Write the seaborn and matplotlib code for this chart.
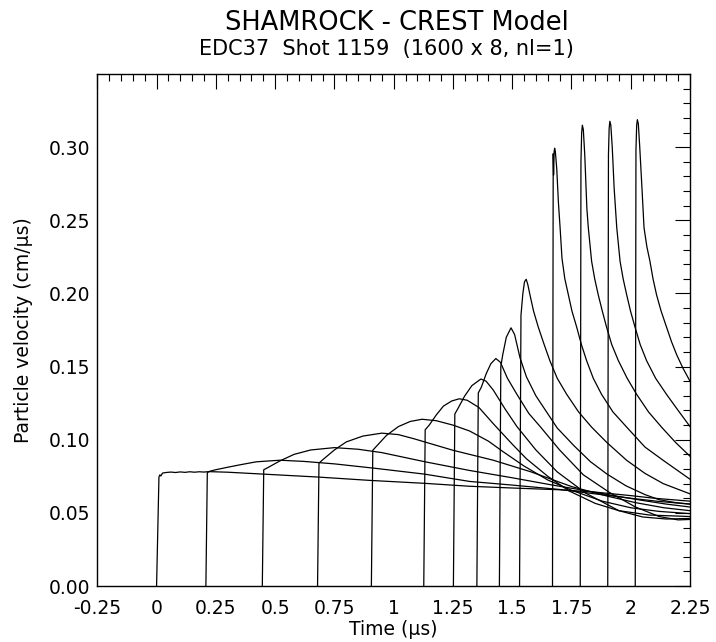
import matplotlib
matplotlib.use("Agg")
import matplotlib.pyplot as plt
import seaborn as sns
import pandas as pd
from matplotlib.ticker import MultipleLocator, FormatStrFormatter

# gauge records: time (us) and particle velocity (cm/us)
g01_t = [0.000, 0.010, 0.014, 0.018, 0.025, 0.04, 0.06, 0.08, 0.10, 0.12, 0.14, 0.16, 0.18, 0.20,
         0.22, 0.30, 0.45, 0.68, 0.90, 1.13, 1.32, 1.50, 1.70, 1.85, 2.00, 2.10, 2.25]
g01_v = [0.0, 0.0745, 0.0760, 0.0752, 0.0772, 0.0776, 0.0779, 0.0776, 0.0780, 0.0777, 0.0781, 0.0778,
         0.0781, 0.0779, 0.0782, 0.0778, 0.0765, 0.0745, 0.0722, 0.0702, 0.0682, 0.0670, 0.0658,
         0.0642, 0.0618, 0.0600, 0.0580]

g02_t = [0.208, 0.214, 0.225, 0.25, 0.30, 0.35, 0.42, 0.52, 0.62, 0.75, 0.92, 1.13, 1.32, 1.50,
         1.70, 1.85, 2.00, 2.12, 2.25]
g02_v = [0.0, 0.0775, 0.0785, 0.0795, 0.0812, 0.0828, 0.0849, 0.0860, 0.0852, 0.0835, 0.0805,
         0.0765, 0.0715, 0.0690, 0.0660, 0.0630, 0.0600, 0.0578, 0.0560]

g03_t = [0.446, 0.452, 0.47, 0.52, 0.58, 0.65, 0.75, 0.85, 0.95, 1.13, 1.32, 1.50, 1.67, 1.80,
         1.92, 2.05, 2.15, 2.25]
g03_v = [0.0, 0.0795, 0.0810, 0.0855, 0.0900, 0.0930, 0.0946, 0.0935, 0.0912, 0.0850, 0.0790,
         0.0740, 0.0690, 0.0655, 0.0620, 0.0585, 0.0560, 0.0540]

g04_t = [0.679, 0.685, 0.70, 0.75, 0.80, 0.87, 0.95, 1.02, 1.085, 1.25, 1.42, 1.58, 1.75, 1.90,
         2.02, 2.14, 2.25]
g04_v = [0.0, 0.0840, 0.0862, 0.0930, 0.0985, 0.1025, 0.1045, 0.1035, 0.1007, 0.0928, 0.0860,
         0.0780, 0.0680, 0.0615, 0.0570, 0.0535, 0.0515]

g05_t = [0.906, 0.912, 0.93, 0.97, 1.02, 1.07, 1.12, 1.18, 1.25, 1.32, 1.40, 1.46, 1.55, 1.65,
         1.75, 1.88, 2.00, 2.12, 2.25]
g05_v = [0.0, 0.0928, 0.0960, 0.1030, 0.1090, 0.1125, 0.1140, 0.1130, 0.1100, 0.1060, 0.0990,
         0.0920, 0.0820, 0.0725, 0.0655, 0.0580, 0.0535, 0.0510, 0.0495]

g06_t = [1.127, 1.133, 1.15, 1.18, 1.21, 1.245, 1.277, 1.31, 1.36, 1.42, 1.50, 1.56, 1.65, 1.74,
         1.85, 1.95, 2.08, 2.25]
g06_v = [0.0, 0.1068, 0.1100, 0.1170, 0.1230, 0.1265, 0.1280, 0.1270, 0.1220, 0.1110, 0.0970,
         0.0870, 0.0750, 0.0650, 0.0565, 0.0515, 0.0485, 0.0475]

g07_t = [1.252, 1.258, 1.27, 1.30, 1.33, 1.368, 1.39, 1.42, 1.47, 1.52, 1.60, 1.69, 1.81, 1.95,
         2.05, 2.15, 2.25]
g07_v = [0.0, 0.1176, 0.1210, 0.1300, 0.1370, 0.1415, 0.1400, 0.1340, 0.1210, 0.1090, 0.0930,
         0.0780, 0.0635, 0.0515, 0.0472, 0.0458, 0.0462]

g08_t = [1.351, 1.357, 1.37, 1.39, 1.41, 1.431, 1.45, 1.48, 1.52, 1.57, 1.62, 1.70, 1.80, 1.91,
         2.02, 2.12, 2.20, 2.25]
g08_v = [0.0, 0.1320, 0.1360, 0.1450, 0.1520, 0.1555, 0.1530, 0.1420, 0.1310, 0.1180, 0.1086,
         0.0930, 0.0760, 0.0640, 0.0540, 0.0475, 0.0452, 0.0455]

g09_t = [1.446, 1.452, 1.46, 1.475, 1.495, 1.51, 1.533, 1.56, 1.60, 1.69, 1.76, 1.83, 1.90, 1.98,
         2.06, 2.12, 2.19, 2.25]
g09_v = [0.0, 0.1500, 0.1580, 0.1700, 0.1765, 0.1720, 0.1560, 0.1430, 0.1300, 0.1080, 0.0960,
         0.0850, 0.0765, 0.0685, 0.0625, 0.0590, 0.0570, 0.0560]

g10_t = [1.531, 1.537, 1.545, 1.552, 1.559, 1.566, 1.575, 1.59, 1.61, 1.635, 1.659, 1.69, 1.73,
         1.78, 1.835, 1.90, 1.983, 2.06, 2.137, 2.25]
g10_v = [0.0, 0.1850, 0.2000, 0.2080, 0.2097, 0.2060, 0.1990, 0.1880, 0.1770, 0.1650, 0.1540,
         0.1420, 0.1310, 0.1190, 0.1086, 0.0980, 0.0859, 0.0770, 0.0700, 0.0630]

g11_t = [1.670, 1.673, 1.6745, 1.677, 1.679, 1.682, 1.688, 1.695, 1.702, 1.710, 1.722, 1.737,
         1.752, 1.772, 1.792, 1.814, 1.842, 1.877, 1.925, 1.983, 2.06, 2.137, 2.25]
g11_v = [0.0, 0.2955, 0.2810, 0.2970, 0.2993, 0.2970, 0.2850, 0.2620, 0.2450, 0.2240, 0.2100,
         0.1990, 0.1880, 0.1770, 0.1650, 0.1540, 0.1420, 0.1310, 0.1190, 0.1086, 0.0950, 0.0859,
         0.0730]

g12_t = [1.787, 1.790, 1.793, 1.796, 1.800, 1.806, 1.815, 1.821, 1.835, 1.848, 1.863, 1.880,
         1.898, 1.920, 1.948, 1.985, 2.025, 2.075, 2.13, 2.19, 2.25]
g12_v = [0.0, 0.2900, 0.3100, 0.3150, 0.3120, 0.2950, 0.2580, 0.2450, 0.2220, 0.2100, 0.1990,
         0.1880, 0.1770, 0.1650, 0.1540, 0.1420, 0.1310, 0.1190, 0.1086, 0.0980, 0.0887]

g13_t = [1.903, 1.906, 1.909, 1.912, 1.916, 1.922, 1.930, 1.941, 1.955, 1.968, 1.983, 1.999,
         2.018, 2.040, 2.067, 2.105, 2.151, 2.20, 2.25]
g13_v = [0.0, 0.2950, 0.3130, 0.3177, 0.3150, 0.3000, 0.2720, 0.2450, 0.2220, 0.2100, 0.1990,
         0.1880, 0.1770, 0.1650, 0.1540, 0.1420, 0.1310, 0.1200, 0.1090]

g14_t = [2.019, 2.022, 2.025, 2.028, 2.032, 2.038, 2.048, 2.056, 2.068, 2.081, 2.094, 2.109,
         2.128, 2.151, 2.172, 2.194, 2.22, 2.25]
g14_v = [0.0, 0.2980, 0.3150, 0.3188, 0.3160, 0.3000, 0.2700, 0.2450, 0.2320, 0.2220, 0.2100,
         0.1990, 0.1880, 0.1770, 0.1670, 0.1580, 0.1490, 0.1400]

gauges = [(g01_t, g01_v), (g02_t, g02_v), (g03_t, g03_v), (g04_t, g04_v), (g05_t, g05_v),
          (g06_t, g06_v), (g07_t, g07_v), (g08_t, g08_v), (g09_t, g09_v), (g10_t, g10_v),
          (g11_t, g11_v), (g12_t, g12_v), (g13_t, g13_v), (g14_t, g14_v)]

x_ticks = [-0.25, 0, 0.25, 0.5, 0.75, 1, 1.25, 1.5, 1.75, 2, 2.25]
x_ticklabels = ["-0.25", "0", "0.25", "0.5", "0.75", "1", "1.25", "1.5", "1.75", "2", "2.25"]
y_ticks = [0.0, 0.05, 0.10, 0.15, 0.20, 0.25, 0.30]

rows = []
for i, (t, v) in enumerate(gauges):
    for tt, vv in zip(t, v):
        rows.append({"gauge": i, "time": tt, "velocity": vv})
df = pd.DataFrame(rows)

sns.set_theme(style="white")
plt.rcParams["font.family"] = ["DejaVu Sans"]
plt.rcParams["text.color"] = "black"

fig = plt.figure(figsize=(7.16, 6.42), dpi=100)
ax = fig.add_axes([0.1359, 0.0872, 0.8278, 0.7975])

sns.lineplot(data=df, x="time", y="velocity", units="gauge", estimator=None, sort=False,
             color="black", linewidth=0.9, ax=ax)

ax.set_xlim(-0.25, 2.25)
ax.set_ylim(0, 0.35)
ax.set_xticks(x_ticks)
ax.set_xticklabels(x_ticklabels)
ax.set_yticks(y_ticks)
ax.yaxis.set_major_formatter(FormatStrFormatter("%.2f"))
ax.xaxis.set_minor_locator(MultipleLocator(0.05))
ax.yaxis.set_minor_locator(MultipleLocator(0.01))
ax.tick_params(which="both", direction="in", top=True, right=True, color="black",
               width=0.8, labelsize=13.5, labelcolor="black")
ax.tick_params(which="major", length=11)
ax.tick_params(which="minor", length=5)
ax.tick_params(axis="x", which="major", pad=9)
ax.tick_params(axis="y", which="major", pad=5)
for s in ax.spines.values():
    s.set_color("black")
    s.set_linewidth(1.0)

ax.set_xlabel("Time (μs)", fontsize=13.5, color="black")
ax.set_ylabel("Particle velocity (cm/μs)", fontsize=13.5, color="black")
ax.xaxis.set_label_coords(0.5, -0.066)
ax.yaxis.set_label_coords(-0.108, 0.5)

fig.text(397 / 716, 1 - 30 / 642, "SHAMROCK - CREST Model", ha="center", va="baseline",
         fontsize=18.5, color="black")
fig.text(386 / 716, 1 - 55 / 642, "EDC37  Shot 1159  (1600 x 8, nl=1)", ha="center",
         va="baseline", fontsize=15, color="black")

fig.savefig("out.png", dpi=100, facecolor="white")
